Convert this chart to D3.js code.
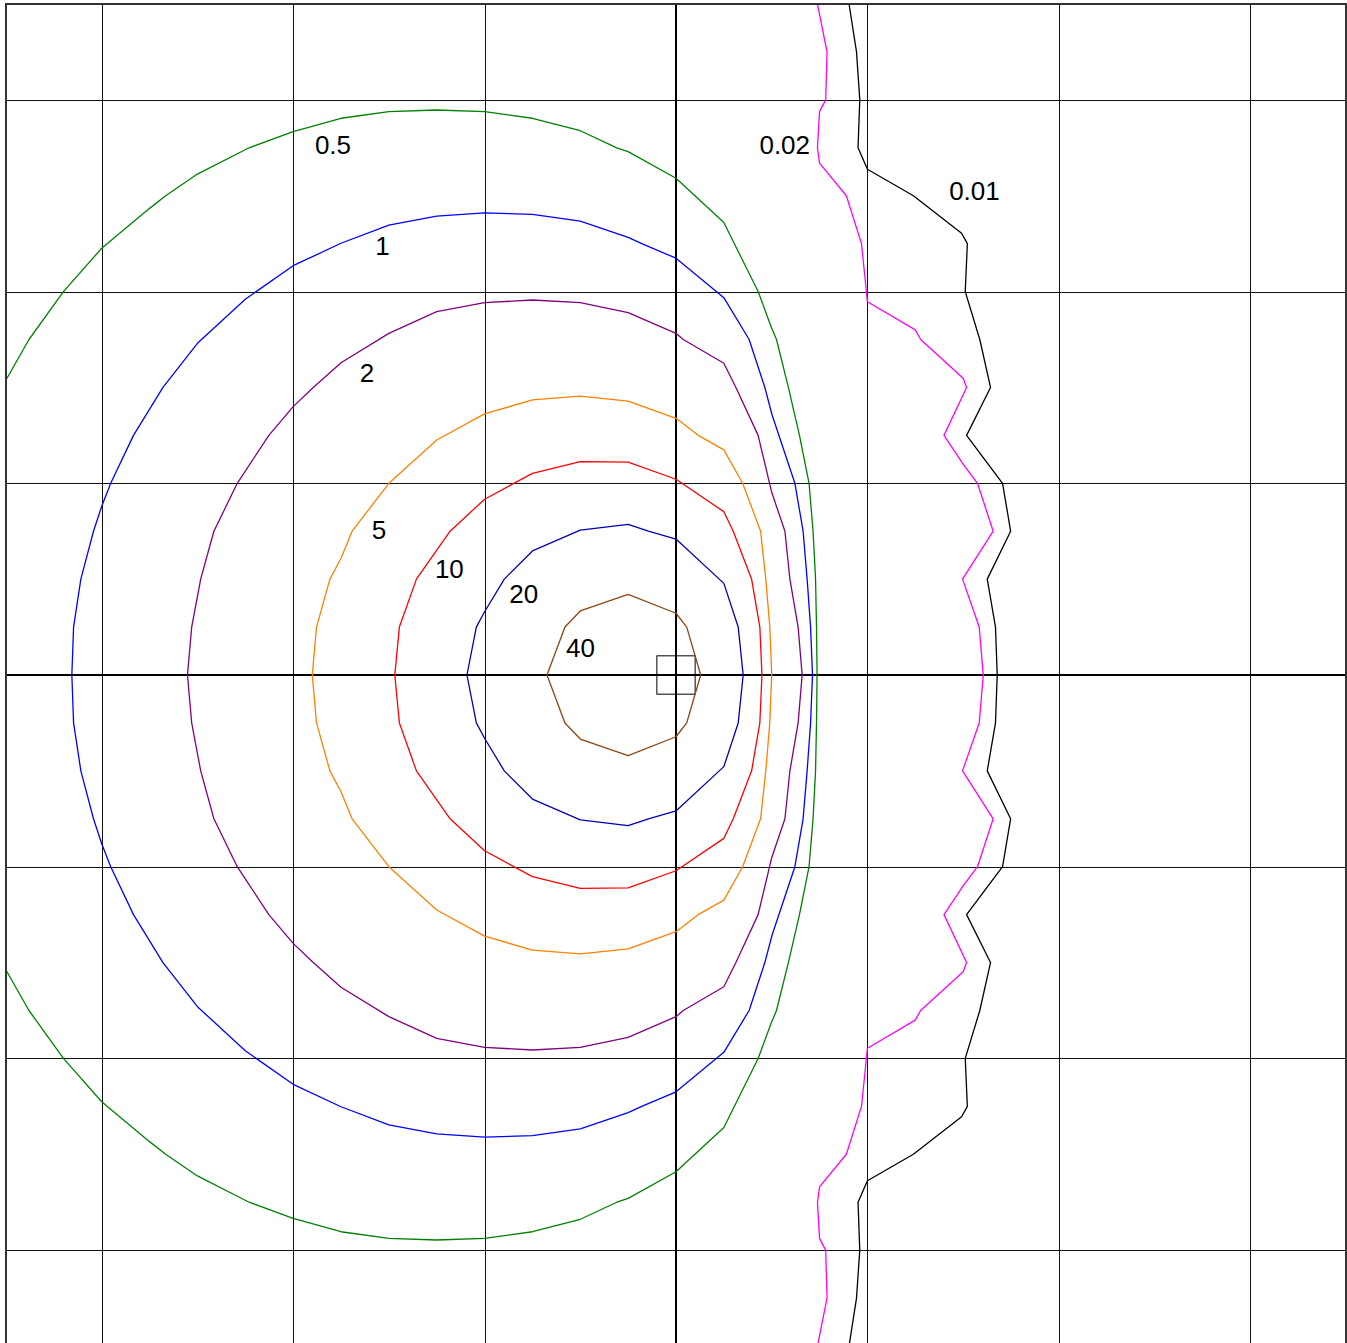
<!DOCTYPE html>
<html>
<head>
<meta charset="utf-8">
<script src="https://cdn.jsdelivr.net/npm/d3@7"></script>
<style>
  body { margin: 0; background: #fff; }
  .grid line { stroke: #111; stroke-width: 1; shape-rendering: crispEdges; }
  .contour { fill: none; stroke-width: 1.3; stroke-linejoin: round; }
  .label { font-family: "Liberation Sans", Arial, sans-serif; font-size: 26px; fill: #000; }
</style>
</head>
<body>
<svg id="chart"></svg>
<script>
// contour levels and the traced iso-lines (x, y in grid units)
const levels = ["0.01", "0.02", "0.5", "1", "2", "5", "10", "20", "40"];
const gridTicks = [-3, -2, -1, 1, 2, 3];

const line40 = [[-0.674,0],[-0.58,0.25],[-0.5,0.334],[-0.25,0.42],[0,0.322],[0.056,0.25],[0.129,0],
  [0.056,-0.25],[0,-0.322],[-0.25,-0.42],[-0.5,-0.334],[-0.58,-0.25]];

const line20 = [[-1.092,0],[-1.043,0.25],[-1,0.33],[-0.897,0.5],[-0.75,0.647],[-0.5,0.756],[-0.25,0.786],[-0.144,0.75],[0,0.709],[0.226,0.5],[0.25,0.478],[0.325,0.25],[0.351,0],
  [0.325,-0.25],[0.25,-0.478],[0.226,-0.5],[0,-0.709],[-0.144,-0.75],[-0.25,-0.786],[-0.5,-0.756],[-0.75,-0.647],[-0.897,-0.5],[-1,-0.33],[-1.043,-0.25]];

const line10 = [[-1.469,0],[-1.445,0.25],[-1.356,0.5],[-1.18,0.75],[-1,0.917],[-0.75,1.052],[-0.5,1.113],[-0.25,1.11],[0,1.021],[0.25,0.852],[0.299,0.75],[0.395,0.5],[0.438,0.25],[0.449,0],
  [0.438,-0.25],[0.395,-0.5],[0.299,-0.75],[0.25,-0.852],[0,-1.021],[-0.25,-1.11],[-0.5,-1.113],[-0.75,-1.052],[-1,-0.917],[-1.18,-0.75],[-1.356,-0.5],[-1.445,-0.25]];

const line5 = [[-1.9,0],[-1.878,0.25],[-1.808,0.5],[-1.75,0.609],[-1.692,0.75],[-1.5,1],[-1.25,1.226],[-1,1.362],[-0.75,1.435],[-0.5,1.455],[-0.25,1.429],[0,1.339],[0.116,1.25],[0.25,1.174],[0.348,1],[0.442,0.75],[0.469,0.5],[0.49,0.25],[0.5,0],
  [0.49,-0.25],[0.469,-0.5],[0.442,-0.75],[0.348,-1],[0.25,-1.174],[0.116,-1.25],[0,-1.339],[-0.25,-1.429],[-0.5,-1.455],[-0.75,-1.435],[-1,-1.362],[-1.25,-1.226],[-1.5,-1],[-1.692,-0.75],[-1.75,-0.609],[-1.808,-0.5],[-1.878,-0.25]];

const line2 = [[-2.552,0],[-2.53,0.25],[-2.483,0.5],[-2.414,0.75],[-2.292,1],[-2.127,1.25],[-2,1.4],[-1.895,1.5],[-1.75,1.629],[-1.5,1.782],[-1.25,1.895],[-1,1.942],[-0.75,1.956],[-0.5,1.942],[-0.25,1.89],[0,1.782],[0.038,1.75],[0.25,1.626],[0.313,1.5],[0.429,1.25],[0.5,0.953],[0.569,0.75],[0.595,0.5],[0.638,0.25],[0.659,0],
  [0.638,-0.25],[0.595,-0.5],[0.569,-0.75],[0.5,-0.953],[0.429,-1.25],[0.313,-1.5],[0.25,-1.626],[0.038,-1.75],[0,-1.782],[-0.25,-1.89],[-0.5,-1.942],[-0.75,-1.956],[-1,-1.942],[-1.25,-1.895],[-1.5,-1.782],[-1.75,-1.629],[-1.895,-1.5],[-2,-1.4],[-2.127,-1.25],[-2.292,-1],[-2.414,-0.75],[-2.483,-0.5],[-2.53,-0.25]];

const line1 = [[-3.156,0],[-3.147,0.25],[-3.109,0.5],[-3.043,0.75],[-3,0.88],[-2.953,1],[-2.834,1.25],[-2.68,1.5],[-2.5,1.73],[-2.25,1.96],[-2,2.135],[-1.75,2.252],[-1.5,2.347],[-1.25,2.394],[-1,2.411],[-0.75,2.403],[-0.5,2.368],[-0.25,2.283],[-0.179,2.25],[0,2.174],[0.25,1.968],[0.382,1.75],[0.464,1.5],[0.502,1.356],[0.621,1],[0.664,0.75],[0.685,0.5],[0.703,0.25],[0.713,0],
  [0.703,-0.25],[0.685,-0.5],[0.664,-0.75],[0.621,-1],[0.502,-1.356],[0.464,-1.5],[0.382,-1.75],[0.25,-1.968],[0,-2.174],[-0.179,-2.25],[-0.25,-2.283],[-0.5,-2.368],[-0.75,-2.403],[-1,-2.411],[-1.25,-2.394],[-1.5,-2.347],[-1.75,-2.252],[-2,-2.135],[-2.25,-1.96],[-2.5,-1.73],[-2.68,-1.5],[-2.834,-1.25],[-2.953,-1],[-3,-0.88],[-3.043,-0.75],[-3.109,-0.5],[-3.147,-0.25]];

const line05 = [[-3.5,1.539],[-3.38,1.75],[-3.2,2],[-3,2.226],[-2.75,2.434],[-2.666,2.5],[-2.5,2.613],[-2.23,2.75],[-2,2.834],[-1.75,2.904],[-1.5,2.939],[-1.25,2.947],[-1,2.939],[-0.75,2.904],[-0.5,2.839],[-0.309,2.75],[-0.25,2.73],[0,2.591],[0.25,2.36],[0.429,2],[0.5,1.809],[0.525,1.75],[0.587,1.5],[0.645,1.25],[0.695,1],[0.716,0.75],[0.729,0.5],[0.734,0.25],[0.737,0],
  [0.734,-0.25],[0.729,-0.5],[0.716,-0.75],[0.695,-1],[0.645,-1.25],[0.587,-1.5],[0.525,-1.75],[0.5,-1.809],[0.429,-2],[0.25,-2.36],[0,-2.591],[-0.25,-2.73],[-0.309,-2.75],[-0.5,-2.839],[-0.75,-2.904],[-1,-2.939],[-1.25,-2.947],[-1.5,-2.939],[-1.75,-2.904],[-2,-2.834],[-2.23,-2.75],[-2.5,-2.613],[-2.666,-2.5],[-2.75,-2.434],[-3,-2.226],[-3.2,-2],[-3.38,-1.75],[-3.5,-1.539]];

const line002 = [[0.739,3.5],[0.789,3.25],[0.782,3],[0.75,2.94],[0.739,2.75],[0.75,2.67],[0.89,2.5],[0.969,2.25],[1,1.947],[1.25,1.8],[1.278,1.75],[1.5,1.548],[1.518,1.5],[1.4,1.25],[1.5,1.1],[1.575,1],[1.657,0.75],[1.497,0.5],[1.584,0.25],[1.605,0],
  [1.584,-0.25],[1.497,-0.5],[1.657,-0.75],[1.575,-1],[1.5,-1.1],[1.4,-1.25],[1.518,-1.5],[1.5,-1.548],[1.278,-1.75],[1.25,-1.8],[1,-1.947],[0.969,-2.25],[0.89,-2.5],[0.75,-2.67],[0.739,-2.75],[0.75,-2.94],[0.782,-3],[0.789,-3.25],[0.739,-3.5]];

const line001 = [[0.904,3.5],[0.943,3.25],[0.96,3],[0.951,2.75],[1,2.638],[1.24,2.5],[1.492,2.304],[1.522,2.25],[1.511,2],[1.587,1.75],[1.643,1.5],[1.518,1.25],[1.706,1],[1.748,0.75],[1.626,0.5],[1.669,0.25],[1.678,0],
  [1.669,-0.25],[1.626,-0.5],[1.748,-0.75],[1.706,-1],[1.518,-1.25],[1.643,-1.5],[1.587,-1.75],[1.511,-2],[1.522,-2.25],[1.492,-2.304],[1.24,-2.5],[1,-2.638],[0.951,-2.75],[0.96,-3],[0.943,-3.25],[0.904,-3.5]];

const contourLines = [line001, line002, line05, line1, line2, line5, line10, line20, line40];

const colors = ["#000000", "#ff00ff", "#008000", "#0000ff", "#800080", "#ff8000", "#ff0000", "#0000b4", "#8b4513"];
const closed = [false, false, false, true, true, true, true, true, true];
// label anchors (grid units, text centre / baseline)
const labelAt = [[1.559,2.478],[0.568,2.716],[-1.792,2.716],[-1.533,2.189],[-1.614,1.527],[-1.551,0.709],[-1.184,0.505],[-0.795,0.375],[-0.499,0.092]];

const W = 1347, H = 1343;
const svg = d3.select("#chart").attr("width", W).attr("height", H);

const x = d3.scaleLinear().domain([-3.5, 3.5]).range([6, 1346]);
const y = d3.scaleLinear().domain([-3.5, 3.5]).range([1346, 4]);

svg.append("defs").append("clipPath").attr("id", "plot")
  .append("rect")
  .attr("x", x(-3.5)).attr("y", y(3.5))
  .attr("width", x(3.5) - x(-3.5)).attr("height", y(-3.5) - y(3.5));

// grid
svg.append("g")
  .attr("class", "grid")
  .attr("transform", `translate(0,${y(-3.5)})`)
  .call(d3.axisBottom(x).tickValues(gridTicks).tickSize(-(y(-3.5) - y(3.5))).tickFormat(""))
  .call(g => g.select(".domain").remove());

svg.append("g")
  .attr("class", "grid")
  .attr("transform", `translate(${x(-3.5)},0)`)
  .call(d3.axisLeft(y).tickValues(gridTicks).tickSize(-(x(3.5) - x(-3.5))).tickFormat(""))
  .call(g => g.select(".domain").remove());

// main axes through the origin
svg.append("line")
  .attr("x1", x(0)).attr("x2", x(0)).attr("y1", y(3.5)).attr("y2", y(-3.5))
  .attr("stroke", "#000").attr("stroke-width", 2);
svg.append("line")
  .attr("x1", x(-3.5)).attr("x2", x(3.5)).attr("y1", y(0)).attr("y2", y(0))
  .attr("stroke", "#000").attr("stroke-width", 2);

// source box at the origin
svg.append("rect")
  .attr("x", x(-0.1)).attr("y", y(0.1))
  .attr("width", x(0.1) - x(-0.1)).attr("height", y(-0.1) - y(0.1))
  .attr("fill", "none").attr("stroke", "#000").attr("stroke-width", 1);

const openLine = d3.line().x(d => x(d[0])).y(d => y(d[1]));
const closedLine = d3.line().x(d => x(d[0])).y(d => y(d[1])).curve(d3.curveLinearClosed);

svg.append("g")
  .attr("clip-path", "url(#plot)")
  .selectAll("path")
  .data(contourLines)
  .enter().append("path")
  .attr("class", "contour")
  .attr("stroke", (d, i) => colors[i])
  .attr("d", (d, i) => closed[i] ? closedLine(d) : openLine(d));

svg.selectAll(".label")
  .data(levels)
  .enter().append("text")
  .attr("class", "label")
  .attr("x", (d, i) => x(labelAt[i][0]))
  .attr("y", (d, i) => y(labelAt[i][1]))
  .attr("text-anchor", "middle")
  .text(d => d);

// frame
svg.append("rect")
  .attr("x", x(-3.5)).attr("y", y(3.5))
  .attr("width", x(3.5) - x(-3.5)).attr("height", y(-3.5) - y(3.5))
  .attr("fill", "none").attr("stroke", "#333").attr("stroke-width", 2);
</script>
</body>
</html>
